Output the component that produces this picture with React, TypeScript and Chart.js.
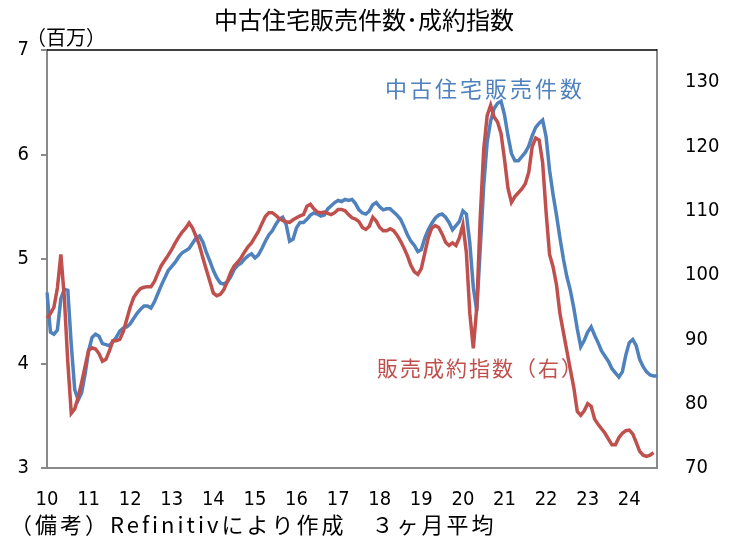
import React, { useEffect, useRef } from 'react';
import { Chart, registerables } from 'chart.js';

Chart.register(...registerables);

// Year tick labels (one per January)
const YEARS = ['10', '11', '12', '13', '14', '15', '16', '17', '18', '19', '20', '21', '22', '23', '24'];

// Existing home sales, millions (3-month average), Jan 2010 – Sep 2024
const SALES = [
  4.68, 4.30, 4.28, 4.32, 4.62, 4.71, 4.70, 4.18, 3.75, 3.65, 3.72, 3.90,
  4.12, 4.25, 4.28, 4.26, 4.19, 4.18, 4.17, 4.21, 4.25, 4.31, 4.34, 4.35,
  4.38, 4.43, 4.48, 4.52, 4.55, 4.55, 4.53, 4.59, 4.67, 4.75, 4.82, 4.89,
  4.93, 4.97, 5.02, 5.06, 5.08, 5.10, 5.15, 5.20, 5.22, 5.16, 5.06, 4.98,
  4.89, 4.82, 4.77, 4.76, 4.78, 4.83, 4.90, 4.94, 4.96, 5.00, 5.03, 5.05,
  5.01, 5.04, 5.10, 5.17, 5.23, 5.27, 5.33, 5.38, 5.40, 5.33, 5.17, 5.19,
  5.30, 5.35, 5.35, 5.38, 5.42, 5.44, 5.43, 5.41, 5.42, 5.48, 5.51, 5.54,
  5.56, 5.55, 5.57, 5.56, 5.57, 5.53, 5.47, 5.44, 5.43, 5.46, 5.52, 5.54,
  5.50, 5.47, 5.48, 5.48, 5.45, 5.42, 5.38, 5.31, 5.23, 5.17, 5.13, 5.07,
  5.09, 5.20, 5.28, 5.34, 5.39, 5.42, 5.43, 5.40, 5.35, 5.28, 5.32, 5.36,
  5.46, 5.43, 5.15, 4.73, 4.50, 5.10, 5.70, 6.12, 6.32, 6.44, 6.49, 6.51,
  6.38, 6.18, 6.01, 5.94, 5.94, 5.98, 6.02, 6.08, 6.18, 6.26, 6.30, 6.33,
  6.17, 5.85, 5.62, 5.42, 5.20, 5.00, 4.83, 4.70, 4.53, 4.33, 4.16, 4.22,
  4.30, 4.35, 4.27, 4.20, 4.12, 4.07, 4.02, 3.95, 3.91, 3.87, 3.92, 4.08,
  4.20, 4.23, 4.17, 4.04, 3.97, 3.92, 3.89, 3.88, 3.88,
];

// Pending home sales index (3-month average), right axis
const PENDING = [
  93.3, 94.0, 95.0, 98.0, 103.2, 96.5, 86.5, 78.5, 79.2, 81.0, 83.3, 85.8,
  88.3, 88.7, 88.5, 87.8, 86.6, 86.9, 88.2, 89.8, 89.8, 90.0, 91.2, 93.1,
  95.0, 96.5, 97.3, 97.9, 98.1, 98.2, 98.2, 99.0, 100.3, 101.5, 102.3, 103.1,
  104.0, 105.0, 105.9, 106.7, 107.3, 108.1, 107.3, 106.0, 104.6, 102.6, 100.8, 99.0,
  97.2, 96.8, 97.0, 97.7, 99.0, 100.4, 101.4, 102.0, 102.7, 103.6, 104.4, 105.0,
  105.9, 106.8, 108.0, 109.1, 109.7, 109.7, 109.3, 108.8, 108.5, 108.3, 108.2, 108.6,
  108.9, 109.2, 109.4, 110.7, 111.0, 110.3, 109.8, 109.7, 109.8, 109.6, 109.4, 109.7,
  110.2, 110.2, 110.0, 109.4, 108.9, 108.7, 108.3, 107.4, 107.1, 107.6, 109.0, 108.4,
  107.4, 106.9, 106.9, 107.2, 106.9, 106.2, 105.3, 104.2, 103.0, 101.5, 100.5, 100.1,
  101.0, 103.4, 105.8, 107.3, 107.7, 107.4, 106.4, 105.1, 104.6, 105.0, 104.6, 105.8,
  107.8, 103.5, 94.0, 88.6, 95.0, 109.0, 119.5, 124.8, 126.4, 124.6, 123.8, 122.0,
  118.0, 113.5, 111.3, 112.2, 112.8, 113.4, 114.2, 116.0, 120.0, 121.3, 121.0, 117.5,
  109.8, 103.2, 101.3, 98.5, 94.0, 91.1, 88.2, 85.3, 82.5, 78.8, 78.2, 78.9,
  80.0, 79.6, 77.6, 76.8, 76.1, 75.4, 74.5, 73.6, 73.6, 74.7, 75.4, 75.8,
  75.9, 75.3, 74.0, 72.6, 72.0, 71.8, 72.0, 72.4, null,
];

// Month categories built from the year labels
const MONTHS: string[] = [];
for (let i = 0; i < SALES.length; i++) {
  const y = 2010 + Math.floor(i / 12);
  const m = (i % 12) + 1;
  MONTHS.push(`${y}-${String(m).padStart(2, '0')}`);
}

const TITLE = '中古住宅販売件数･成約指数';
const UNIT = '（百万）';
const LABEL_SALES = '中古住宅販売件数';
const LABEL_PENDING = '販売成約指数（右）';
const NOTE = '（備考）Refinitivにより作成　３ヶ月平均';

const BLUE = '#4F81BD';
const RED = '#C0504D';
const AXIS = '#898989';
const FONT = '"Noto Sans CJK JP", "Noto Sans", sans-serif';
const NUMFONT = '"Liberation Sans Narrow", "DejaVu Sans Condensed", "Noto Sans CJK JP", sans-serif';

const decor = {
  id: 'decor',
  afterDraw(chart: any) {
    const { ctx, chartArea } = chart;
    ctx.save();
    ctx.strokeStyle = '#000';
    ctx.lineWidth = 1.5;
    ctx.beginPath();
    ctx.moveTo(chartArea.left, chartArea.top);
    ctx.lineTo(chartArea.right, chartArea.top);
    ctx.stroke();

    ctx.textBaseline = 'middle';
    ctx.fillStyle = '#000';
    ctx.textAlign = 'center';
    ctx.font = `24px ${FONT}`;
    ctx.fillText(TITLE, 364, 20);

    ctx.textAlign = 'left';
    ctx.font = `20px ${FONT}`;
    ctx.fillText(UNIT, 26, 37);

    ctx.fillStyle = BLUE;
    ctx.font = `22px ${FONT}`;
    (ctx as any).letterSpacing = '3px';
    ctx.fillText(LABEL_SALES, 385, 89);

    ctx.fillStyle = RED;
    ctx.font = `21px ${FONT}`;
    (ctx as any).letterSpacing = '2px';
    ctx.fillText(LABEL_PENDING, 377, 368);

    ctx.fillStyle = '#000';
    ctx.font = `22px ${FONT}`;
    (ctx as any).letterSpacing = '3px';
    ctx.fillText(NOTE, 10, 525);
    ctx.restore();
  },
};

export default function App() {
  const ref = useRef<HTMLCanvasElement>(null);

  useEffect(() => {
    if (!ref.current) return;
    const chart = new Chart(ref.current, {
      type: 'line',
      data: {
        labels: MONTHS,
        datasets: [
          {
            label: LABEL_PENDING,
            data: PENDING,
            yAxisID: 'y1',
            borderColor: RED,
            borderWidth: 3.5,
            pointRadius: 0,
            tension: 0,
            order: 0,
          },
          {
            label: LABEL_SALES,
            data: SALES,
            yAxisID: 'y',
            borderColor: BLUE,
            borderWidth: 3.5,
            pointRadius: 0,
            tension: 0,
            order: 1,
          },
        ],
      },
      options: {
        responsive: false,
        animation: false,
        devicePixelRatio: 1,
        layout: { padding: { top: 50, left: 0, right: 0, bottom: 35 } },
        plugins: {
          legend: { display: false },
          tooltip: { enabled: false },
          title: { display: false },
        },
        scales: {
          x: {
            offset: false,
            grid: { display: false },
            border: { color: AXIS, width: 2 },
            ticks: {
              autoSkip: false,
              maxRotation: 0,
              minRotation: 0,
              padding: 12,
              color: '#000',
              font: { family: NUMFONT, size: 20 },
              callback: (_v: any, i: number) => (i % 12 === 0 ? YEARS[i / 12] : ''),
            },
            afterFit: (s: any) => { s.height = 44; },
          },
          y: {
            position: 'left',
            min: 3,
            max: 7,
            ticks: {
              stepSize: 1,
              padding: 12,
              color: '#000',
              font: { family: NUMFONT, size: 20 },
            },
            grid: { drawOnChartArea: false, tickLength: 6, color: AXIS, lineWidth: 2 },
            border: { color: AXIS, width: 2 },
            afterFit: (s: any) => { s.width = 47; },
          },
          y1: {
            position: 'right',
            min: 70,
            max: 135,
            ticks: {
              stepSize: 10,
              padding: 20,
              color: '#000',
              font: { family: NUMFONT, size: 20 },
            },
            afterBuildTicks: (s: any) => {
              s.ticks = s.ticks.filter((t: any) => t.value <= 130);
            },
            grid: { display: false },
            border: { color: AXIS, width: 2 },
            afterFit: (s: any) => { s.width = 73; },
          },
        },
      },
      plugins: [decor],
    });
    return () => chart.destroy();
  }, []);

  return (
    <div style={{ position: 'fixed', left: 0, top: 0, width: 730, height: 547, background: '#fff' }}>
      <canvas ref={ref} width={730} height={547} style={{ width: 730, height: 547 }} />
    </div>
  );
}
